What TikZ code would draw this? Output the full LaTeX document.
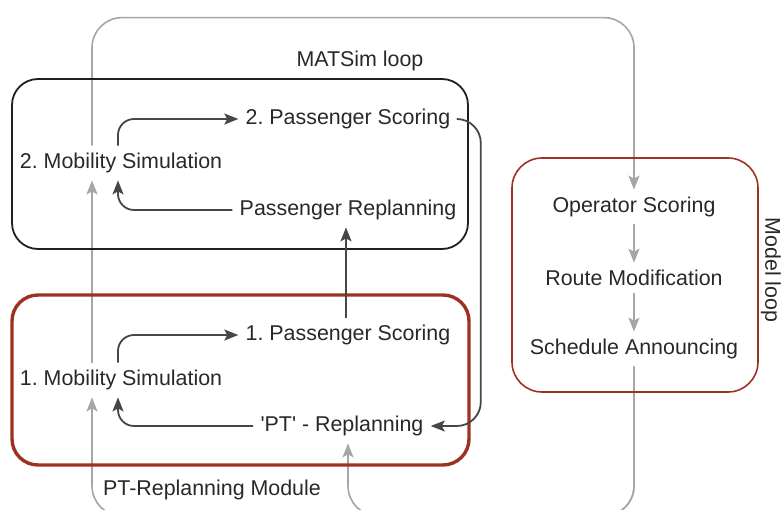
\documentclass[tikz,border=0pt]{standalone}
\usepackage{fontspec}
\setmainfont{Liberation Sans}
\usetikzlibrary{arrows.meta,positioning}

\definecolor{loopred}{RGB}{158,50,34}
\definecolor{looplines}{RGB}{166,166,166}
\definecolor{darkline}{RGB}{70,70,70}
\definecolor{stagetext}{RGB}{40,40,40}

\begin{document}
\frenchspacing
\begin{tikzpicture}[
    x=0.5pt, y=-0.5pt,
    stage/.style={text=stagetext, font=\fontsize{10.7}{13}\selectfont, inner sep=3.5pt},
    looplabel/.style={text=stagetext, font=\fontsize{10.7}{13}\selectfont, inner sep=0pt},
    darrow/.style={draw=darkline, line width=0.9pt, -{Stealth[length=7pt,width=5.5pt,inset=1.5pt]}, rounded corners=8pt},
    garrow/.style={draw=looplines, line width=0.8pt, -{Stealth[length=7pt,width=5.5pt,inset=1.5pt]}, rounded corners=15pt},
    matsimbox/.style={draw=black!88, line width=0.9pt, rounded corners=13pt},
    ptbox/.style={draw=loopred, line width=1.7pt, rounded corners=13pt},
    modelbox/.style={draw=loopred, line width=0.8pt, rounded corners=15pt}
]
\path[use as bounding box, clip] (0,0) rectangle (782,509);

% stages of the two MATSim iterations
\node[stage] (mob2) at (121,163) {2. Mobility Simulation};
\node[stage] (score2) at (348,119) {2. Passenger Scoring};
\node[stage] (replan2) at (348,210) {Passenger Replanning};
\node[stage] (score1) at (348,335) {1. Passenger Scoring};
\node[stage] (mob1) at (121,380) {1. Mobility Simulation};
\node[stage] (ptreplan) at (342,426) {\textquotesingle PT\textquotesingle{} - Replanning};

% operator side
\node[stage] (opscore) at (634,207) {Operator Scoring};
\node[stage] (routemod) at (634,278) {Route Modification};
\node[stage] (sched) at (634,349) {Schedule Announcing};

\coordinate (floor) at (400,516);

% model loop connectors
\draw[garrow] ([xshift=-14.5pt]mob2.north) -- ++(0,-128) -| (opscore.north);
\draw[garrow] ([xshift=-14.5pt]mob1.north) -- ([xshift=-14.5pt]mob2.south);
\draw[garrow] (opscore.south) -- (routemod.north);
\draw[garrow] (routemod.south) -- (sched.north);
\draw[garrow] (sched.south) |- (floor) -| ([xshift=3pt]ptreplan.south);
\draw[garrow] (sched.south) |- (floor) -| ([xshift=-14.5pt]mob1.south);

% frames
\draw[matsimbox] (12,79) rectangle (468,249);
\draw[ptbox] (12,295) rectangle (469,465);
\draw[modelbox] (512,158) rectangle (758,392);
\node[looplabel] (matsimlbl) at (360,61) {MATSim loop};
\node[looplabel] (ptlbl) at (212,490) {PT-Replanning Module};
\node[looplabel, rotate=-90] (modellbl) at (771,270) {Model loop};

% MATSim connectors
\draw[darrow] ([xshift=-1.5pt]mob2.north) |- (score2.west);
\draw[darrow] (replan2.west) -| ([xshift=-1.5pt]mob2.south);
\draw[darrow] ([xshift=-1pt]score1.north) -- ([xshift=-1pt]replan2.south);
\draw[darrow] ([xshift=-1.5pt]mob1.north) |- (score1.west);
\draw[darrow] (ptreplan.west) -| ([xshift=-1.5pt]mob1.south);
\draw[darrow, rounded corners=12pt] (score2.east) -| ([xshift=25pt]ptreplan.east) -- (ptreplan.east);
\end{tikzpicture}
\end{document}
